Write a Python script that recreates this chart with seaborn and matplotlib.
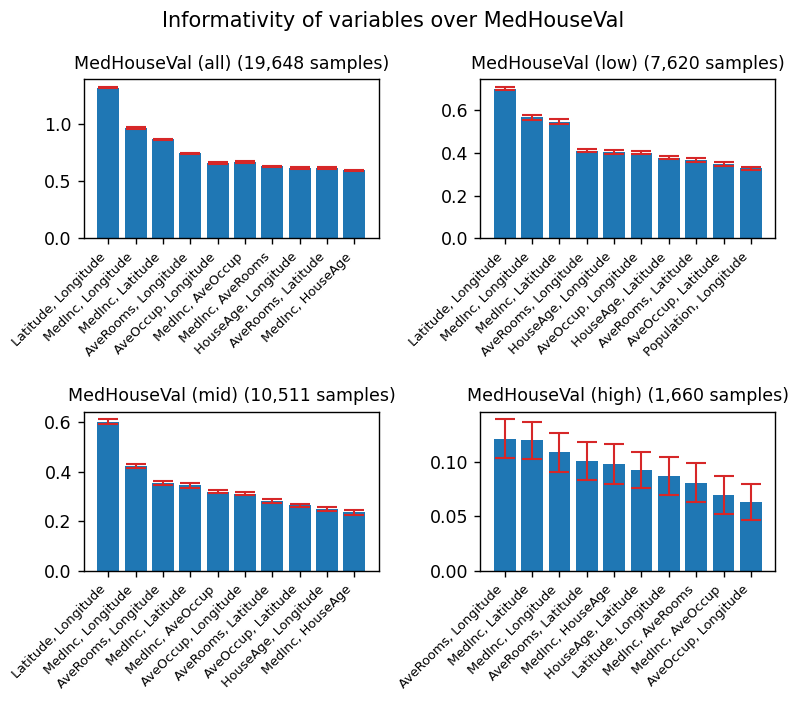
import numpy as np
import pandas as pd
import matplotlib
matplotlib.use("Agg")
import matplotlib.pyplot as plt
import seaborn as sns

# pair labels + informativity means / errors per MedHouseVal bin
all_labels = ["Latitude, Longitude", "MedInc, Longitude", "MedInc, Latitude", "AveRooms, Longitude",
              "AveOccup, Longitude", "MedInc, AveOccup", "MedInc, AveRooms", "HouseAge, Longitude",
              "AveRooms, Latitude", "MedInc, HouseAge"]
all_vals = [1.318, 0.967, 0.865, 0.744, 0.660, 0.666, 0.629, 0.615, 0.615, 0.594]
all_err = [0.007, 0.007, 0.006, 0.006, 0.006, 0.007, 0.007, 0.005, 0.005, 0.007]

low_labels = ["Latitude, Longitude", "MedInc, Longitude", "MedInc, Latitude", "AveRooms, Longitude",
              "HouseAge, Longitude", "AveOccup, Longitude", "HouseAge, Latitude", "AveRooms, Latitude",
              "AveOccup, Latitude", "Population, Longitude"]
low_vals = [0.699, 0.566, 0.544, 0.410, 0.405, 0.400, 0.377, 0.366, 0.349, 0.327]
low_err = [0.008, 0.0117, 0.0109, 0.0085, 0.0093, 0.008, 0.008, 0.0105, 0.009, 0.008]

mid_labels = ["Latitude, Longitude", "MedInc, Longitude", "AveRooms, Longitude", "MedInc, Latitude",
              "MedInc, AveOccup", "AveOccup, Longitude", "AveRooms, Latitude", "AveOccup, Latitude",
              "HouseAge, Longitude", "MedInc, HouseAge"]
mid_vals = [0.601, 0.424, 0.355, 0.345, 0.319, 0.312, 0.283, 0.264, 0.251, 0.237]
mid_err = [0.010, 0.008, 0.0075, 0.009, 0.006, 0.0065, 0.0075, 0.005, 0.0075, 0.0095]

high_labels = ["AveRooms, Longitude", "MedInc, Latitude", "MedInc, Longitude", "AveRooms, Latitude",
               "MedInc, HouseAge", "HouseAge, Latitude", "Latitude, Longitude", "MedInc, AveRooms",
               "MedInc, AveOccup", "AveOccup, Longitude"]
high_vals = [0.1213, 0.1197, 0.1090, 0.1006, 0.0977, 0.0930, 0.0872, 0.0808, 0.0694, 0.0633]
high_err = [0.0177, 0.0166, 0.0178, 0.0174, 0.0184, 0.0165, 0.0171, 0.0180, 0.0175, 0.0163]

titles = ["MedHouseVal (all) (19,648 samples)", "MedHouseVal (low) (7,620 samples)",
          "MedHouseVal (mid) (10,511 samples)", "MedHouseVal (high) (1,660 samples)"]

panels = [(all_labels, all_vals, all_err), (low_labels, low_vals, low_err),
          (mid_labels, mid_vals, mid_err), (high_labels, high_vals, high_err)]

fig, axes = plt.subplots(2, 2, figsize=(6.4, 5.688), dpi=125)
fig.subplots_adjust(left=0.105, right=0.969, top=0.8885, bottom=0.197, wspace=0.345, hspace=1.09)
fig.suptitle("Informativity of variables over MedHouseVal", fontsize=12, x=0.491, y=0.985)

for ax, (labels, vals, err), title in zip(axes.flat, panels, titles):
    df = pd.DataFrame({"pair": labels, "value": vals, "err": err})
    sns.barplot(data=df, x="pair", y="value", color="#1f77b4", saturation=1, width=0.8,
                errorbar=None, ax=ax)
    ax.errorbar(np.arange(len(df)), df["value"], yerr=df["err"], fmt="none",
                ecolor="#d62728", capsize=5.8, elinewidth=1.2, capthick=1.2)
    ax.set_xlim(-0.89, len(df) - 0.11)
    ax.set_xlabel("")
    ax.set_ylabel("")
    ax.set_title(title, fontsize=10)
    ax.set_xticks(np.arange(len(df)))
    ax.set_xticklabels(labels, rotation=45, ha="right", fontsize=7.4)

plt.savefig("out.png", dpi=125)
